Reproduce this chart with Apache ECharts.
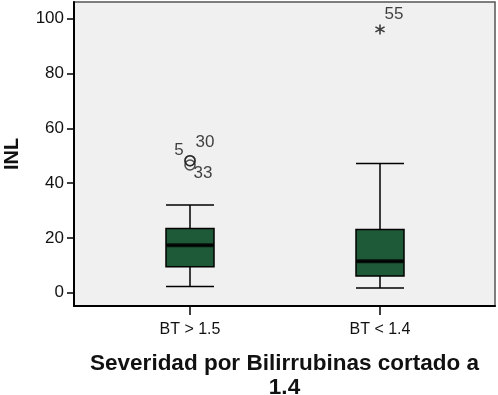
<!DOCTYPE html>
<html>
<head>
<meta charset="utf-8">
<script src="https://cdn.jsdelivr.net/npm/echarts@6/dist/echarts.min.js"></script>
<style>html,body{margin:0;padding:0;background:#fff}#c{width:498px;height:395px}</style>
</head>
<body>
<div id="c"></div>
<script>
// ---- data ----
const categories = ['BT > 1.5', 'BT < 1.4'];
// [lower whisker, Q1, median, Q3, upper whisker]
const boxStats = [
  [2.3, 9.5, 17.3, 23.4, 32.0],
  [1.7, 6.1, 11.5, 23.1, 47.2]
];
const outlierCases = ['5', '30', '33'];
const outlierCategory = [0, 0, 0];
const outlierValues = [48.2, 48.2, 46.6];
const extremeCases = ['55'];
const extremeCategory = [1];
const extremeValues = [96.1];
const yTicks = [0, 20, 40, 60, 80, 100];
const yTitle = 'INL';
const xTitle = 'Severidad por Bilirrubinas cortado a\n1.4';

// ---- styles / layout ----
const FONT = '"Liberation Sans", Arial, sans-serif';
const yMin = -4.85, yMax = 106.1;
const outlierLabelOffsets = [[-11, -10], [15, -18], [13, 8]];
const extremeLabelOffsets = [[14, -15]];
const asterisk = 'path://M85,0L115,0L115,200L85,200Z M179,37L194,63L21,163L6,137Z M194,137L179,163L6,63L21,37Z';

const chart = echarts.init(document.getElementById('c'), null, {renderer: 'canvas'});
chart.setOption({
  animation: false,
  backgroundColor: '#ffffff',
  grid: [
    {left: 74, right: 3, top: 2, bottom: 89, show: true, backgroundColor: '#f0f0f0', borderColor: '#555', borderWidth: 1.5, outerBoundsMode: 'none', containLabel: false},
    {left: 95, width: 380, top: 2, bottom: 89, show: false, outerBoundsMode: 'none', containLabel: false}
  ],
  xAxis: [
    {
      type: 'value', gridIndex: 0, min: 0, max: 1,
      axisLine: {show: true, onZero: false, lineStyle: {color: '#000', width: 2}},
      axisTick: {show: false}, axisLabel: {show: false}, splitLine: {show: false},
      name: xTitle, nameLocation: 'middle', nameGap: 46,
      nameTextStyle: {fontFamily: FONT, fontSize: 22.5, fontWeight: 'bold', color: '#111', lineHeight: 24}
    },
    {
      type: 'category', gridIndex: 1, data: categories,
      axisLine: {show: false, onZero: false},
      axisTick: {show: true, alignWithLabel: true, length: 9, lineStyle: {color: '#000', width: 1.5}},
      axisLabel: {fontFamily: FONT, fontSize: 16, color: '#111', margin: 16},
      splitLine: {show: false}
    }
  ],
  yAxis: [
    {
      type: 'value', gridIndex: 0, min: yMin, max: yMax,
      axisLine: {show: true, lineStyle: {color: '#000', width: 2}},
      axisTick: {show: true, length: 7, customValues: yTicks, lineStyle: {color: '#000', width: 1.5}},
      axisLabel: {customValues: yTicks, fontFamily: FONT, fontSize: 17, color: '#111', margin: 10},
      splitLine: {show: false},
      name: yTitle, nameLocation: 'middle', nameGap: 52, nameRotate: 90,
      nameTextStyle: {fontFamily: FONT, fontSize: 20, fontWeight: 'bold', color: '#111'}
    },
    {
      type: 'value', gridIndex: 1, min: yMin, max: yMax, show: false
    }
  ],
  series: [
    {
      type: 'boxplot', xAxisIndex: 1, yAxisIndex: 1,
      data: boxStats, boxWidth: [48, 48],
      itemStyle: {color: '#1e5a37', borderColor: '#000', borderWidth: 1.5}
    },
    {
      type: 'scatter', xAxisIndex: 1, yAxisIndex: 1,
      symbol: 'rect', symbolSize: [47, 4],
      itemStyle: {color: '#000'},
      data: boxStats.map((b, i) => [i, b[2]])
    },
    {
      type: 'scatter', xAxisIndex: 1, yAxisIndex: 1,
      symbol: 'circle', symbolSize: 10,
      itemStyle: {color: 'rgba(0,0,0,0)', borderColor: '#222', borderWidth: 1.5},
      label: {show: true, position: 'inside', formatter: p => p.name, fontFamily: FONT, fontSize: 17, color: '#111'},
      data: outlierValues.map((v, i) => ({
        name: outlierCases[i], value: [outlierCategory[i], v],
        label: {offset: outlierLabelOffsets[i]}
      }))
    },
    {
      type: 'scatter', xAxisIndex: 1, yAxisIndex: 1,
      symbol: asterisk, symbolSize: 10,
      itemStyle: {color: '#111'},
      label: {show: true, position: 'inside', formatter: p => p.name, fontFamily: FONT, fontSize: 17, color: '#111'},
      data: extremeValues.map((v, i) => ({
        name: extremeCases[i], value: [extremeCategory[i], v],
        label: {offset: extremeLabelOffsets[i]}
      }))
    }
  ]
});
</script>
</body>
</html>
